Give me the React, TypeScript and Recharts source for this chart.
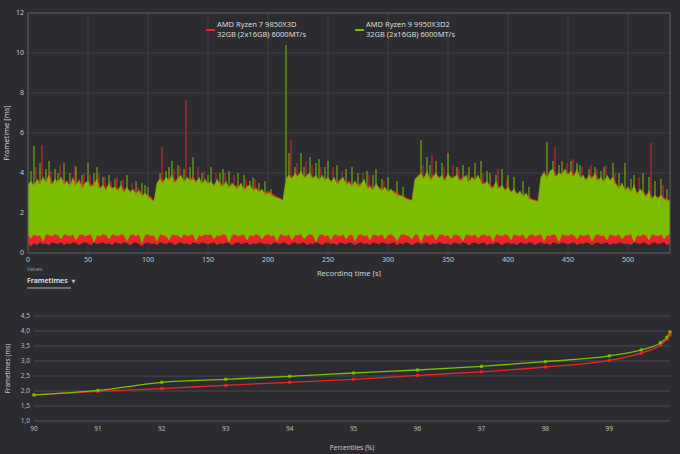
import React from 'react';
import {
  ComposedChart,
  Area,
  Bar,
  XAxis,
  YAxis,
  CartesianGrid,
  ReferenceArea,
  LineChart,
  Line,
  Label,
} from 'recharts';

const RED = '#e8262a';
const GREEN = '#7cbd00';
const BG = '#2c2c30';
const FONT = "'Noto Sans', 'DejaVu Sans', sans-serif";

const SERIES = [
  { name: 'AMD Ryzen 7 9850X3D', sub: '32GB (2x16GB) 6000MT/s', color: RED },
  { name: 'AMD Ryzen 9 9950X3D2', sub: '32GB (2x16GB) 6000MT/s', color: GREEN },
];

// ---- Frametime recording: envelope per 2.5 s bin (ms) ----
const STEP = 2.5;
const timeTicks = [0, 50, 100, 150, 200, 250, 300, 350, 400, 450, 500];
const frameTicks = [0, 2, 4, 6, 8, 10, 12];

const greenHigh = [
  3.4, 3.6, 3.3, 3.7, 3.4, 3.8, 3.5, 3.9, 3.4, 3.7,
  3.5, 3.8, 3.4, 3.6, 3.3, 3.7, 3.4, 3.6, 3.2, 3.5,
  3.6, 3.3, 3.4, 3.7, 3.2, 3.4, 3.1, 3.5, 3.2, 3.3,
  3.1, 3.4, 3.0, 3.3, 3.0, 3.2, 2.9, 3.1, 2.8, 3.0,
  2.8, 2.7, 2.55, 3.5, 3.7, 3.5, 3.8, 3.6, 3.9, 3.5,
  3.7, 3.9, 3.5, 3.8, 3.6, 3.7, 3.5, 3.8, 3.4, 3.7,
  3.4, 3.6, 3.3, 3.7, 3.4, 3.3, 3.6, 3.2, 3.5, 3.3,
  3.2, 3.5, 3.1, 3.3, 3.4, 3.1, 3.2, 3.0, 3.2, 2.9,
  3.0, 2.9, 2.8, 2.75, 2.7, 2.6, 3.7, 3.9, 3.7, 4.0,
  3.8, 4.1, 3.7, 3.9, 4.0, 3.7, 3.9, 3.6, 3.9, 3.6,
  3.8, 3.5, 3.8, 3.4, 3.6, 3.8, 3.4, 3.5, 3.3, 3.6,
  3.3, 3.4, 3.7, 3.2, 3.3, 3.1, 3.5, 3.2, 3.1, 3.3,
  3.0, 3.2, 3.0, 2.9, 2.85, 2.8, 2.7, 2.65, 2.6, 3.7,
  3.8, 4.0, 3.7, 4.1, 3.6, 3.8, 4.0, 3.7, 3.9, 3.6,
  4.0, 3.7, 3.8, 3.9, 3.6, 3.7, 3.9, 3.5, 3.8, 3.6,
  3.9, 3.5, 3.4, 3.6, 3.3, 3.2, 3.6, 3.2, 3.4, 3.1,
  3.3, 3.0, 3.2, 2.9, 3.1, 2.8, 3.0, 2.7, 2.65, 2.6,
  2.55, 3.8, 4.0, 3.7, 4.1, 4.2, 3.8, 4.0, 3.9, 4.2,
  3.9, 4.1, 3.8, 4.2, 3.7, 3.9, 3.6, 3.9, 3.7, 4.0,
  3.6, 3.8, 3.5, 3.9, 3.6, 3.8, 3.4, 3.2, 3.5, 3.1,
  3.3, 3.0, 3.4, 2.9, 3.2, 3.0, 2.8, 3.1, 2.7, 2.9,
  2.7, 2.9, 2.7, 2.6, 2.65,
];

const greenLow = [
  0.9, 0.75, 0.95, 0.85, 0.9, 0.6, 0.95, 0.9, 0.85, 0.95,
  0.9, 0.7, 0.95, 0.9, 0.85, 0.95, 0.65, 0.9, 0.95, 0.85,
  0.9, 0.95, 0.55, 0.9, 0.85, 0.95, 0.9, 0.7, 0.95, 0.9,
  0.85, 0.95, 0.9, 0.6, 0.9, 0.95, 0.85, 0.95, 0.5, 0.9,
  0.95, 0.85, 0.9, 0.6, 0.95, 0.9, 0.85, 0.65, 0.95, 0.9,
  0.9, 0.75, 0.95, 0.85, 0.9, 0.95, 0.6, 0.9, 0.85, 0.95,
  0.9, 0.95, 0.7, 0.9, 0.85, 0.95, 0.9, 0.55, 0.9, 0.95,
  0.85, 0.9, 0.95, 0.65, 0.9, 0.85, 0.95, 0.9, 0.7, 0.9,
  0.95, 0.85, 0.9, 0.6, 0.95, 0.9, 0.85, 0.95, 0.65, 0.9,
  0.9, 0.95, 0.7, 0.85, 0.95, 0.9, 0.55, 0.9, 0.95, 0.85,
  0.9, 0.65, 0.95, 0.9, 0.85, 0.95, 0.7, 0.9, 0.95, 0.6,
  0.9, 0.95, 0.85, 0.9, 0.65, 0.95, 0.9, 0.85, 0.95, 0.7,
  0.9, 0.95, 0.85, 0.6, 0.9, 0.95, 0.9, 0.85, 0.7, 0.95,
  0.9, 0.55, 0.95, 0.85, 0.9, 0.95, 0.65, 0.9, 0.95, 0.85,
  0.9, 0.7, 0.95, 0.9, 0.85, 0.6, 0.95, 0.9, 0.85, 0.95,
  0.75, 0.9, 0.95, 0.85, 0.9, 0.6, 0.95, 0.9, 0.85, 0.95,
  0.9, 0.65, 0.95, 0.9, 0.85, 0.95, 0.7, 0.9, 0.95, 0.85,
  0.9, 0.95, 0.6, 0.9, 0.85, 0.95, 0.9, 0.55, 0.95, 0.9,
  0.85, 0.95, 0.9, 0.7, 0.95, 0.85, 0.9, 0.95, 0.6, 0.9,
  0.95, 0.85, 0.9, 0.65, 0.95, 0.9, 0.85, 0.95, 0.7, 0.9,
  0.9, 0.95, 0.55, 0.9, 0.85, 0.95, 0.9, 0.65, 0.95, 0.9,
  0.85, 0.95, 0.7, 0.9, 0.95,
];

const redHigh = [
  3.5, 3.5, 3.4, 3.6, 3.6, 3.7, 3.4, 4.0, 3.5, 3.6,
  3.6, 3.7, 3.6, 3.5, 3.4, 3.8, 3.3, 3.7, 3.4, 3.4,
  3.5, 3.4, 3.5, 3.6, 3.3, 3.3, 3.3, 3.4, 3.3, 3.2,
  3.2, 3.3, 3.2, 3.2, 3.1, 3.1, 3.0, 3.2, 2.9, 2.9,
  2.9, 2.8, 2.6, 3.4, 3.8, 3.6, 3.7, 3.7, 3.8, 3.6,
  3.8, 3.8, 3.6, 3.7, 3.7, 3.8, 3.6, 3.7, 3.5, 3.6,
  3.5, 3.5, 3.4, 3.6, 3.5, 3.4, 3.5, 3.3, 3.4, 3.4,
  3.3, 3.4, 3.2, 3.4, 3.3, 3.2, 3.3, 3.1, 3.1, 3.0,
  3.1, 3.0, 2.9, 2.8, 2.75, 2.65, 3.6, 3.8, 3.8, 3.9,
  3.9, 4.0, 3.8, 3.8, 3.9, 3.8, 3.8, 3.7, 3.8, 3.7,
  3.7, 3.6, 3.7, 3.5, 3.7, 3.7, 3.5, 3.6, 3.4, 3.5,
  3.4, 3.5, 3.6, 3.3, 3.4, 3.2, 3.4, 3.3, 3.2, 3.2,
  3.1, 3.1, 3.1, 3.0, 2.9, 2.85, 2.75, 2.7, 2.65, 3.6,
  3.9, 3.9, 3.8, 4.0, 3.7, 3.9, 3.9, 3.8, 3.8, 3.7,
  3.9, 3.8, 3.7, 3.8, 3.7, 3.8, 3.8, 3.6, 3.7, 3.7,
  3.8, 3.6, 3.5, 3.5, 3.4, 3.3, 3.5, 3.3, 3.3, 3.2,
  3.2, 3.1, 3.1, 3.0, 3.0, 2.9, 2.9, 2.8, 2.7, 2.65,
  2.6, 3.7, 4.1, 3.8, 4.0, 4.1, 3.9, 3.9, 4.0, 4.1,
  4.0, 4.0, 3.9, 4.1, 3.8, 3.8, 3.7, 3.8, 3.8, 3.9,
  3.7, 3.7, 3.6, 3.8, 3.7, 3.7, 3.5, 3.3, 3.4, 3.2,
  3.2, 3.1, 3.3, 3.0, 3.1, 3.1, 2.9, 3.0, 2.8, 2.8,
  2.8, 2.8, 2.75, 2.7, 2.6,
];

const redLow = [
  0.45, 0.35, 0.5, 0.4, 0.55, 0.45, 0.5, 0.4, 0.55, 0.5,
  0.45, 0.55, 0.4, 0.5, 0.45, 0.55, 0.5, 0.4, 0.5, 0.55,
  0.5, 0.4, 0.55, 0.45, 0.5, 0.55, 0.45, 0.5, 0.4, 0.55,
  0.5, 0.45, 0.55, 0.5, 0.4, 0.5, 0.55, 0.45, 0.35, 0.5,
  0.55, 0.45, 0.5, 0.4, 0.55, 0.5, 0.45, 0.55, 0.5, 0.4,
  0.5, 0.55, 0.45, 0.5, 0.4, 0.55, 0.5, 0.45, 0.55, 0.5,
  0.45, 0.5, 0.55, 0.4, 0.5, 0.45, 0.55, 0.5, 0.4, 0.5,
  0.55, 0.45, 0.5, 0.55, 0.4, 0.5, 0.45, 0.55, 0.5, 0.45,
  0.5, 0.4, 0.55, 0.5, 0.45, 0.55, 0.5, 0.4, 0.5, 0.55,
  0.45, 0.5, 0.55, 0.4, 0.5, 0.45, 0.55, 0.5, 0.4, 0.5,
  0.55, 0.45, 0.5, 0.4, 0.55, 0.5, 0.45, 0.55, 0.5, 0.4,
  0.5, 0.55, 0.45, 0.5, 0.4, 0.55, 0.5, 0.45, 0.55, 0.5,
  0.45, 0.5, 0.55, 0.4, 0.5, 0.45, 0.55, 0.5, 0.4, 0.5,
  0.55, 0.45, 0.5, 0.55, 0.4, 0.5, 0.45, 0.55, 0.5, 0.45,
  0.5, 0.4, 0.55, 0.5, 0.45, 0.55, 0.5, 0.4, 0.5, 0.55,
  0.45, 0.5, 0.55, 0.4, 0.5, 0.45, 0.55, 0.5, 0.4, 0.5,
  0.55, 0.45, 0.5, 0.4, 0.55, 0.5, 0.45, 0.55, 0.5, 0.4,
  0.5, 0.55, 0.45, 0.5, 0.4, 0.55, 0.5, 0.45, 0.55, 0.5,
  0.45, 0.5, 0.55, 0.4, 0.5, 0.45, 0.55, 0.5, 0.4, 0.5,
  0.55, 0.45, 0.5, 0.55, 0.4, 0.5, 0.45, 0.55, 0.5, 0.45,
  0.5, 0.4, 0.55, 0.5, 0.45, 0.55, 0.5, 0.4, 0.5, 0.55,
  0.45, 0.5, 0.55, 0.4, 0.5,
];

// isolated single-frame spikes: [time s, frametime ms]
const greenSpikes = [
  [2.5, 4.1], [5, 5.35], [10, 4.5], [15, 4.2], [17.5, 4.6], [22.5, 4.2], [25, 4.0],
  [30, 4.5], [35, 4.0], [40, 4.3], [45, 3.9], [50, 4.5], [55, 4.0], [57.5, 4.3],
  [62.5, 3.8], [67.5, 3.9], [72.5, 3.7], [77.5, 3.6], [82.5, 3.9], [90, 3.6],
  [95, 3.5], [97.5, 3.4], [100, 3.3],
  [110, 4.0], [115, 4.1], [117.5, 4.3], [120, 4.6], [125, 4.4], [130, 4.2], [135, 4.3],
  [137.5, 4.8], [145, 4.0], [150, 3.9], [152.5, 4.3], [160, 4.0], [162.5, 4.2],
  [167.5, 4.1], [175, 4.0], [180, 3.9], [185, 3.6], [187.5, 3.8], [192.5, 3.5],
  [197.5, 3.6], [202.5, 3.2],
  [215, 10.4], [217.5, 5.0], [222.5, 4.3], [227.5, 5.0], [230, 4.3], [235, 4.8],
  [240, 4.5], [242.5, 4.7], [247.5, 4.3], [250, 4.6], [257.5, 4.4], [265, 4.2],
  [270, 4.3], [275, 4.0], [282.5, 4.1], [287.5, 3.9], [290, 4.2], [295, 3.7],
  [300, 3.8], [307.5, 3.6], [312.5, 3.3],
  [327.5, 5.65], [332.5, 4.8], [335, 4.4], [340, 4.6], [345, 4.5], [350, 5.0],
  [357.5, 4.3], [362.5, 4.4], [367.5, 4.3], [372.5, 4.5], [377.5, 4.6], [382.5, 4.1],
  [385, 4.0], [390, 3.9], [395, 4.2], [400, 3.9], [405, 3.8], [412.5, 3.6], [417.5, 3.3],
  [432.5, 5.55], [437.5, 4.6], [442.5, 4.4], [445, 4.6], [452.5, 4.6], [457.5, 4.5],
  [460, 4.4], [467.5, 4.2], [472.5, 4.3], [477.5, 4.1], [480, 4.3], [487.5, 4.5],
  [492.5, 4.0], [497.5, 4.5], [502.5, 3.7], [505, 3.9], [512.5, 4.0], [517.5, 3.8],
  [522.5, 3.6], [527.5, 3.7], [532.5, 3.2],
];

const redSpikes = [
  [7.5, 4.3], [12.5, 5.4], [20, 4.1], [27.5, 4.4], [40, 4.4], [47.5, 4.0], [52.5, 3.9],
  [60, 4.0], [65, 3.8], [70, 3.6], [75, 3.8], [80, 3.7], [87.5, 3.5], [92.5, 3.3],
  [112.5, 5.3], [122.5, 4.2], [127.5, 4.3], [132.5, 7.65], [142.5, 4.3], [147.5, 4.1],
  [157.5, 4.0], [165, 4.0], [172.5, 3.9], [182.5, 3.7], [190, 3.7],
  [220, 5.65], [225, 4.5], [232.5, 4.6], [237.5, 4.4], [245, 4.3], [255, 4.3],
  [262.5, 4.1], [280, 4.0], [285, 3.9], [297.5, 3.6],
  [330, 4.4], [337.5, 4.9], [347.5, 4.3], [355, 4.4], [360, 4.2], [367.5, 4.0],
  [380, 4.0], [392.5, 4.2], [400, 3.7],
  [440, 5.3], [450, 4.5], [455, 4.7], [462.5, 4.3], [470, 4.4], [475, 4.2],
  [482.5, 4.4], [490, 4.0], [510, 3.8], [520, 5.5], [530, 3.4],
];

// ---- Percentile curve ----
const percentiles = [90, 91, 92, 93, 94, 95, 96, 97, 98, 99, 99.5, 99.8, 99.9, 99.95];
const percentileTicks = [90, 91, 92, 93, 94, 95, 96, 97, 98, 99];
const pctRed = [1.87, 1.99, 2.08, 2.19, 2.29, 2.39, 2.52, 2.64, 2.8, 3.02, 3.26, 3.53, 3.72, 3.87];
const pctGreen = [1.87, 2.02, 2.29, 2.39, 2.49, 2.6, 2.7, 2.82, 2.98, 3.17, 3.37, 3.61, 3.79, 3.97];
const pctTicksY = [1, 1.5, 2, 2.5, 3, 3.5, 4, 4.5];

function spikeAt(list: number[][], i: number) {
  const s = list.find(([t]) => Math.round(t / STEP) === i);
  if (!s) return null;
  const base = Math.max(greenHigh[i], redHigh[i]) - 0.05;
  return [base, s[1]];
}

const frameRows = greenHigh.map((gh, i) => ({
  t: i * STEP,
  rBand: [redLow[i], redHigh[i]],
  gBand: [greenLow[i], gh],
  rSpike: spikeAt(redSpikes, i),
  gSpike: spikeAt(greenSpikes, i),
}));

const pctRows = percentiles.map((p, i) => ({ p, red: pctRed[i], green: pctGreen[i] }));

const tickStyle = { fill: '#c6c6c6', fontSize: 7, fontFamily: FONT };
const tickStyleSmall = { fill: '#bdbdbd', fontSize: 6.5, fontFamily: FONT };

const makeDot = (color: string) => (props: any) => {
  const { cx, cy, index } = props;
  if (cx == null || cy == null) return <g key={index} />;
  return <rect key={index} x={cx - 1.5} y={cy - 1.5} width={3} height={3} fill={color} />;
};

export default function App() {
  return (
    <div
      style={{
        position: 'fixed',
        left: 0,
        top: 0,
        width: 680,
        height: 454,
        background: BG,
        overflow: 'hidden',
        fontFamily: FONT,
      }}
    >
      <div style={{ position: 'absolute', left: 0, top: 0 }}>
        <ComposedChart
          width={680}
          height={277}
          data={frameRows}
          margin={{ top: 13, right: 10, left: 0, bottom: 0 }}
          barGap={0}
          barCategoryGap={0}
        >
          <CartesianGrid stroke="#3e3e43" strokeWidth={1} />
          <XAxis
            dataKey="t"
            type="number"
            domain={[0, 535]}
            ticks={timeTicks}
            interval={0}
            tickSize={0}
            tickMargin={4}
            axisLine={false}
            tick={tickStyle}
            height={24}
          >
            <Label
              value="Recording time [s]"
              position="insideBottom"
              offset={1}
              fill="#d0d0d0"
              fontSize={7.5}
              fontFamily={FONT}
            />
          </XAxis>
          <YAxis
            type="number"
            domain={[0, 12]}
            ticks={frameTicks}
            interval={0}
            width={28}
            tickSize={0}
            tickMargin={4}
            axisLine={false}
            tick={tickStyle}
          >
            <Label
              value="Frametime [ms]"
              angle={-90}
              position="insideLeft"
              offset={6}
              fill="#d0d0d0"
              fontSize={7.5}
              fontFamily={FONT}
              style={{ textAnchor: 'middle' }}
            />
          </YAxis>
          <Area
            dataKey="rBand"
            type="linear"
            stroke={RED}
            strokeWidth={0.5}
            fill={RED}
            fillOpacity={1}
            dot={false}
            activeDot={false}
            isAnimationActive={false}
          />
          <Bar dataKey="rSpike" fill={RED} barSize={1} isAnimationActive={false} />
          <Area
            dataKey="gBand"
            type="linear"
            stroke={GREEN}
            strokeWidth={0.5}
            fill={GREEN}
            fillOpacity={1}
            dot={false}
            activeDot={false}
            isAnimationActive={false}
          />
          <Bar dataKey="gSpike" fill={GREEN} barSize={1} isAnimationActive={false} />
          <ReferenceArea
            x1={0}
            x2={535}
            y1={0}
            y2={12}
            fill="none"
            stroke="#58585d"
            strokeWidth={1}
            ifOverflow="visible"
          />
        </ComposedChart>
      </div>

      {/* legend */}
      {SERIES.map((s, i) => (
        <div
          key={s.name}
          style={{
            position: 'absolute',
            left: i === 0 ? 206 : 355,
            top: 20,
            display: 'flex',
            alignItems: 'center',
          }}
        >
          <div style={{ width: 9, height: 2, background: s.color, marginRight: 2 }} />
          <div style={{ color: '#dcdcdc', fontSize: 7.5, lineHeight: '9.5px', whiteSpace: 'nowrap' }}>
            <div>{s.name}</div>
            <div>{s.sub}</div>
          </div>
        </div>
      ))}

      {/* values selector */}
      <div style={{ position: 'absolute', left: 27, top: 266, color: '#9a9a9a', fontSize: 5, lineHeight: '6px' }}>
        Values
      </div>
      <div
        style={{
          position: 'absolute',
          left: 27,
          top: 276,
          color: '#e6e6e6',
          fontSize: 7,
          fontWeight: 600,
          lineHeight: '9px',
          whiteSpace: 'nowrap',
        }}
      >
        Frametimes <span style={{ fontSize: 5, color: '#bbb', marginLeft: 2 }}>▼</span>
      </div>
      <div style={{ position: 'absolute', left: 27, top: 287, width: 44, height: 2, background: '#6c6c70' }} />

      <div style={{ position: 'absolute', left: 0, top: 290 }}>
        <LineChart
          width={680}
          height={164}
          data={pctRows}
          margin={{ top: 26, right: 10, left: 0, bottom: 0 }}
        >
          <CartesianGrid stroke="#47474c" vertical={false} />
          <XAxis
            dataKey="p"
            type="number"
            domain={[90, 99.95]}
            ticks={percentileTicks}
            interval={0}
            tickSize={0}
            tickMargin={5}
            axisLine={{ stroke: '#47474c' }}
            tick={tickStyleSmall}
            height={33}
          >
            <Label
              value="Percentiles (%)"
              position="insideBottom"
              offset={4}
              fill="#c8c8c8"
              fontSize={6.5}
              fontFamily={FONT}
            />
          </XAxis>
          <YAxis
            type="number"
            domain={[1, 4.5]}
            ticks={pctTicksY}
            interval={0}
            width={34}
            tickSize={0}
            tickMargin={4}
            axisLine={false}
            tick={tickStyleSmall}
            tickFormatter={(v: number) => v.toFixed(1).replace('.', ',')}
          >
            <Label
              value="Frametimes (ms)"
              angle={-90}
              position="insideLeft"
              offset={8}
              fill="#c8c8c8"
              fontSize={6.3}
              fontFamily={FONT}
              style={{ textAnchor: 'middle' }}
            />
          </YAxis>
          <Line
            dataKey="red"
            type="monotone"
            stroke={RED}
            strokeWidth={1.3}
            dot={makeDot(RED)}
            activeDot={false}
            isAnimationActive={false}
          />
          <Line
            dataKey="green"
            type="monotone"
            stroke={GREEN}
            strokeWidth={1.3}
            dot={makeDot(GREEN)}
            activeDot={false}
            isAnimationActive={false}
          />
        </LineChart>
      </div>
    </div>
  );
}
